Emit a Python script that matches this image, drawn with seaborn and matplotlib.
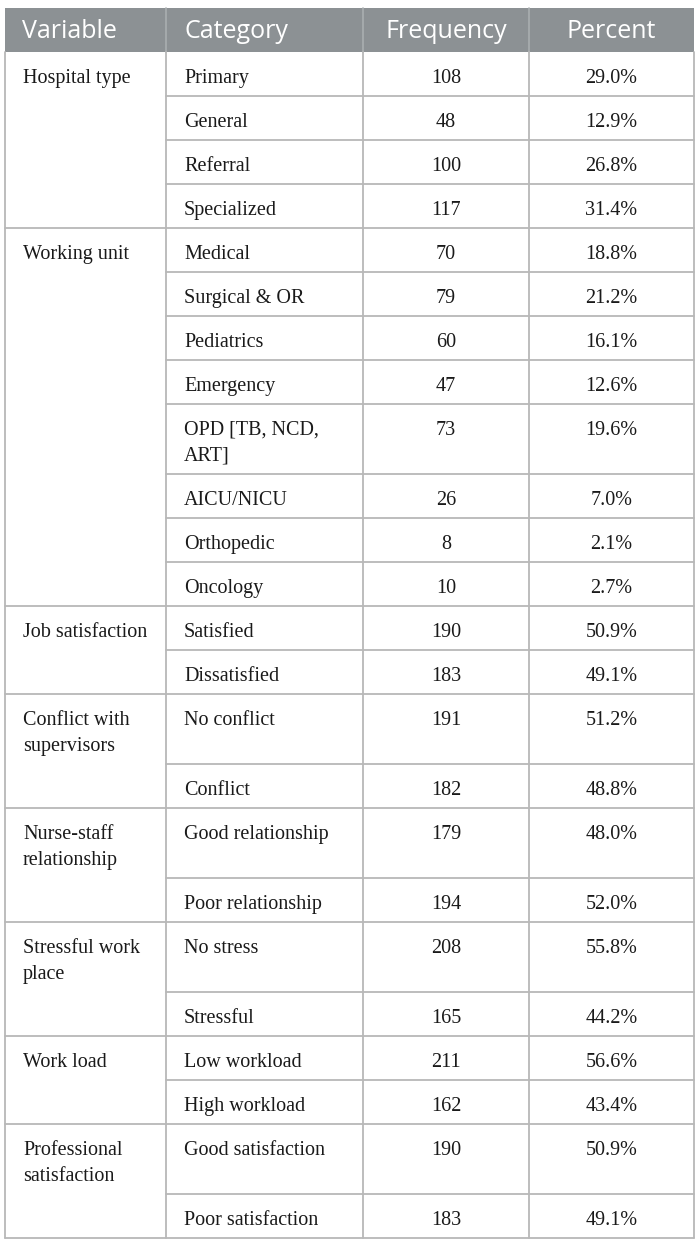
import matplotlib
matplotlib.use("Agg")
import matplotlib.pyplot as plt
import seaborn as sns

# ---- data ----
columns = ["Variable", "Category", "Frequency", "Percent"]
variables = ["Hospital type", "Working unit", "Job satisfaction",
             "Conflict with\nsupervisors", "Nurse-staff\nrelationship",
             "Stressful work\nplace", "Work load", "Professional\nsatisfaction"]
group_sizes = [4, 8, 2, 2, 2, 2, 2, 2]
categories = ["Primary", "General", "Referral", "Specialized",
              "Medical", "Surgical & OR", "Pediatrics", "Emergency",
              "OPD [TB, NCD,\nART]", "AICU/NICU", "Orthopedic", "Oncology",
              "Satisfied", "Dissatisfied",
              "No conflict", "Conflict",
              "Good relationship", "Poor relationship",
              "No stress", "Stressful",
              "Low workload", "High workload",
              "Good satisfaction", "Poor satisfaction"]
frequencies = [108, 48, 100, 117,
               70, 79, 60, 47, 73, 26, 8, 10,
               190, 183, 191, 182, 179, 194, 208, 165, 211, 162, 190, 183]
percents = ["29.0%", "12.9%", "26.8%", "31.4%",
            "18.8%", "21.2%", "16.1%", "12.6%", "19.6%", "7.0%", "2.1%", "2.7%",
            "50.9%", "49.1%", "51.2%", "48.8%", "48.0%", "52.0%",
            "55.8%", "44.2%", "56.6%", "43.4%", "50.9%", "49.1%"]

# ---- style ----
sns.set_theme(style="white")
plt.rcParams['font.family'] = ['Liberation Serif', 'DejaVu Serif']

W, H = 700, 1242
fig = plt.figure(figsize=(7.0, 12.42), dpi=100)
ax = fig.add_axes([0, 0, 1, 1])
ax.set_xlim(0, W)
ax.set_ylim(H, 0)
ax.axis("off")

x_edges = [5, 166, 363, 529, 694]
header_top, header_bot = 8, 52
single_h, extra_h = 44, 26
line_gap = 26
base_off = 31
line_col = "#b8b8b8"
header_col = "#8c9194"
text_col = "#1a1a1a"
body_fs = 14.5
head_fs = 18

# header
ax.add_patch(plt.Rectangle((x_edges[0], header_top), x_edges[-1] - x_edges[0],
                           header_bot - header_top, color=header_col, lw=0, zorder=1))
for xe in x_edges[1:-1]:
    ax.plot([xe, xe], [header_top, header_bot], color="#a9aeb0", lw=1.2, zorder=2)
hx = [22, 184, (x_edges[2] + x_edges[3]) / 2, (x_edges[3] + x_edges[4]) / 2]
has = ["left", "left", "center", "center"]
for t, x, ha in zip(columns, hx, has):
    ax.text(x, (header_top + header_bot) / 2 + 2, t, ha=ha, va="center", color="white",
            fontsize=head_fs, family=["Open Sans", "DejaVu Sans"], zorder=3)

# body
y = header_bot
ci = 0
for g, (var, n) in enumerate(zip(variables, group_sizes)):
    for k in range(n):
        cat = categories[ci]
        nlines = cat.count("\n") + 1
        if k == 0:
            nlines = max(nlines, var.count("\n") + 1)
        h = single_h + extra_h * (nlines - 1)
        for li, part in enumerate(cat.split("\n")):
            ax.text(184, y + base_off + li * line_gap, part, ha="left", va="baseline",
                    fontsize=body_fs, color=text_col)
        ax.text((x_edges[2] + x_edges[3]) / 2, y + base_off, str(frequencies[ci]),
                ha="center", va="baseline", fontsize=body_fs, color=text_col)
        ax.text((x_edges[3] + x_edges[4]) / 2, y + base_off, percents[ci],
                ha="center", va="baseline", fontsize=body_fs, color=text_col)
        if k == 0:
            for li, part in enumerate(var.split("\n")):
                ax.text(23, y + base_off + li * line_gap, part, ha="left", va="baseline",
                        fontsize=body_fs, color=text_col)
        y += h
        ci += 1
        x0 = x_edges[0] if k == n - 1 else x_edges[1]
        ax.plot([x0, x_edges[-1]], [y, y], color=line_col, lw=1.3, zorder=2)

for xe in x_edges:
    ax.plot([xe, xe], [header_bot, y], color=line_col, lw=1.3, zorder=2)

fig.savefig("out.png", dpi=100, facecolor="white")
